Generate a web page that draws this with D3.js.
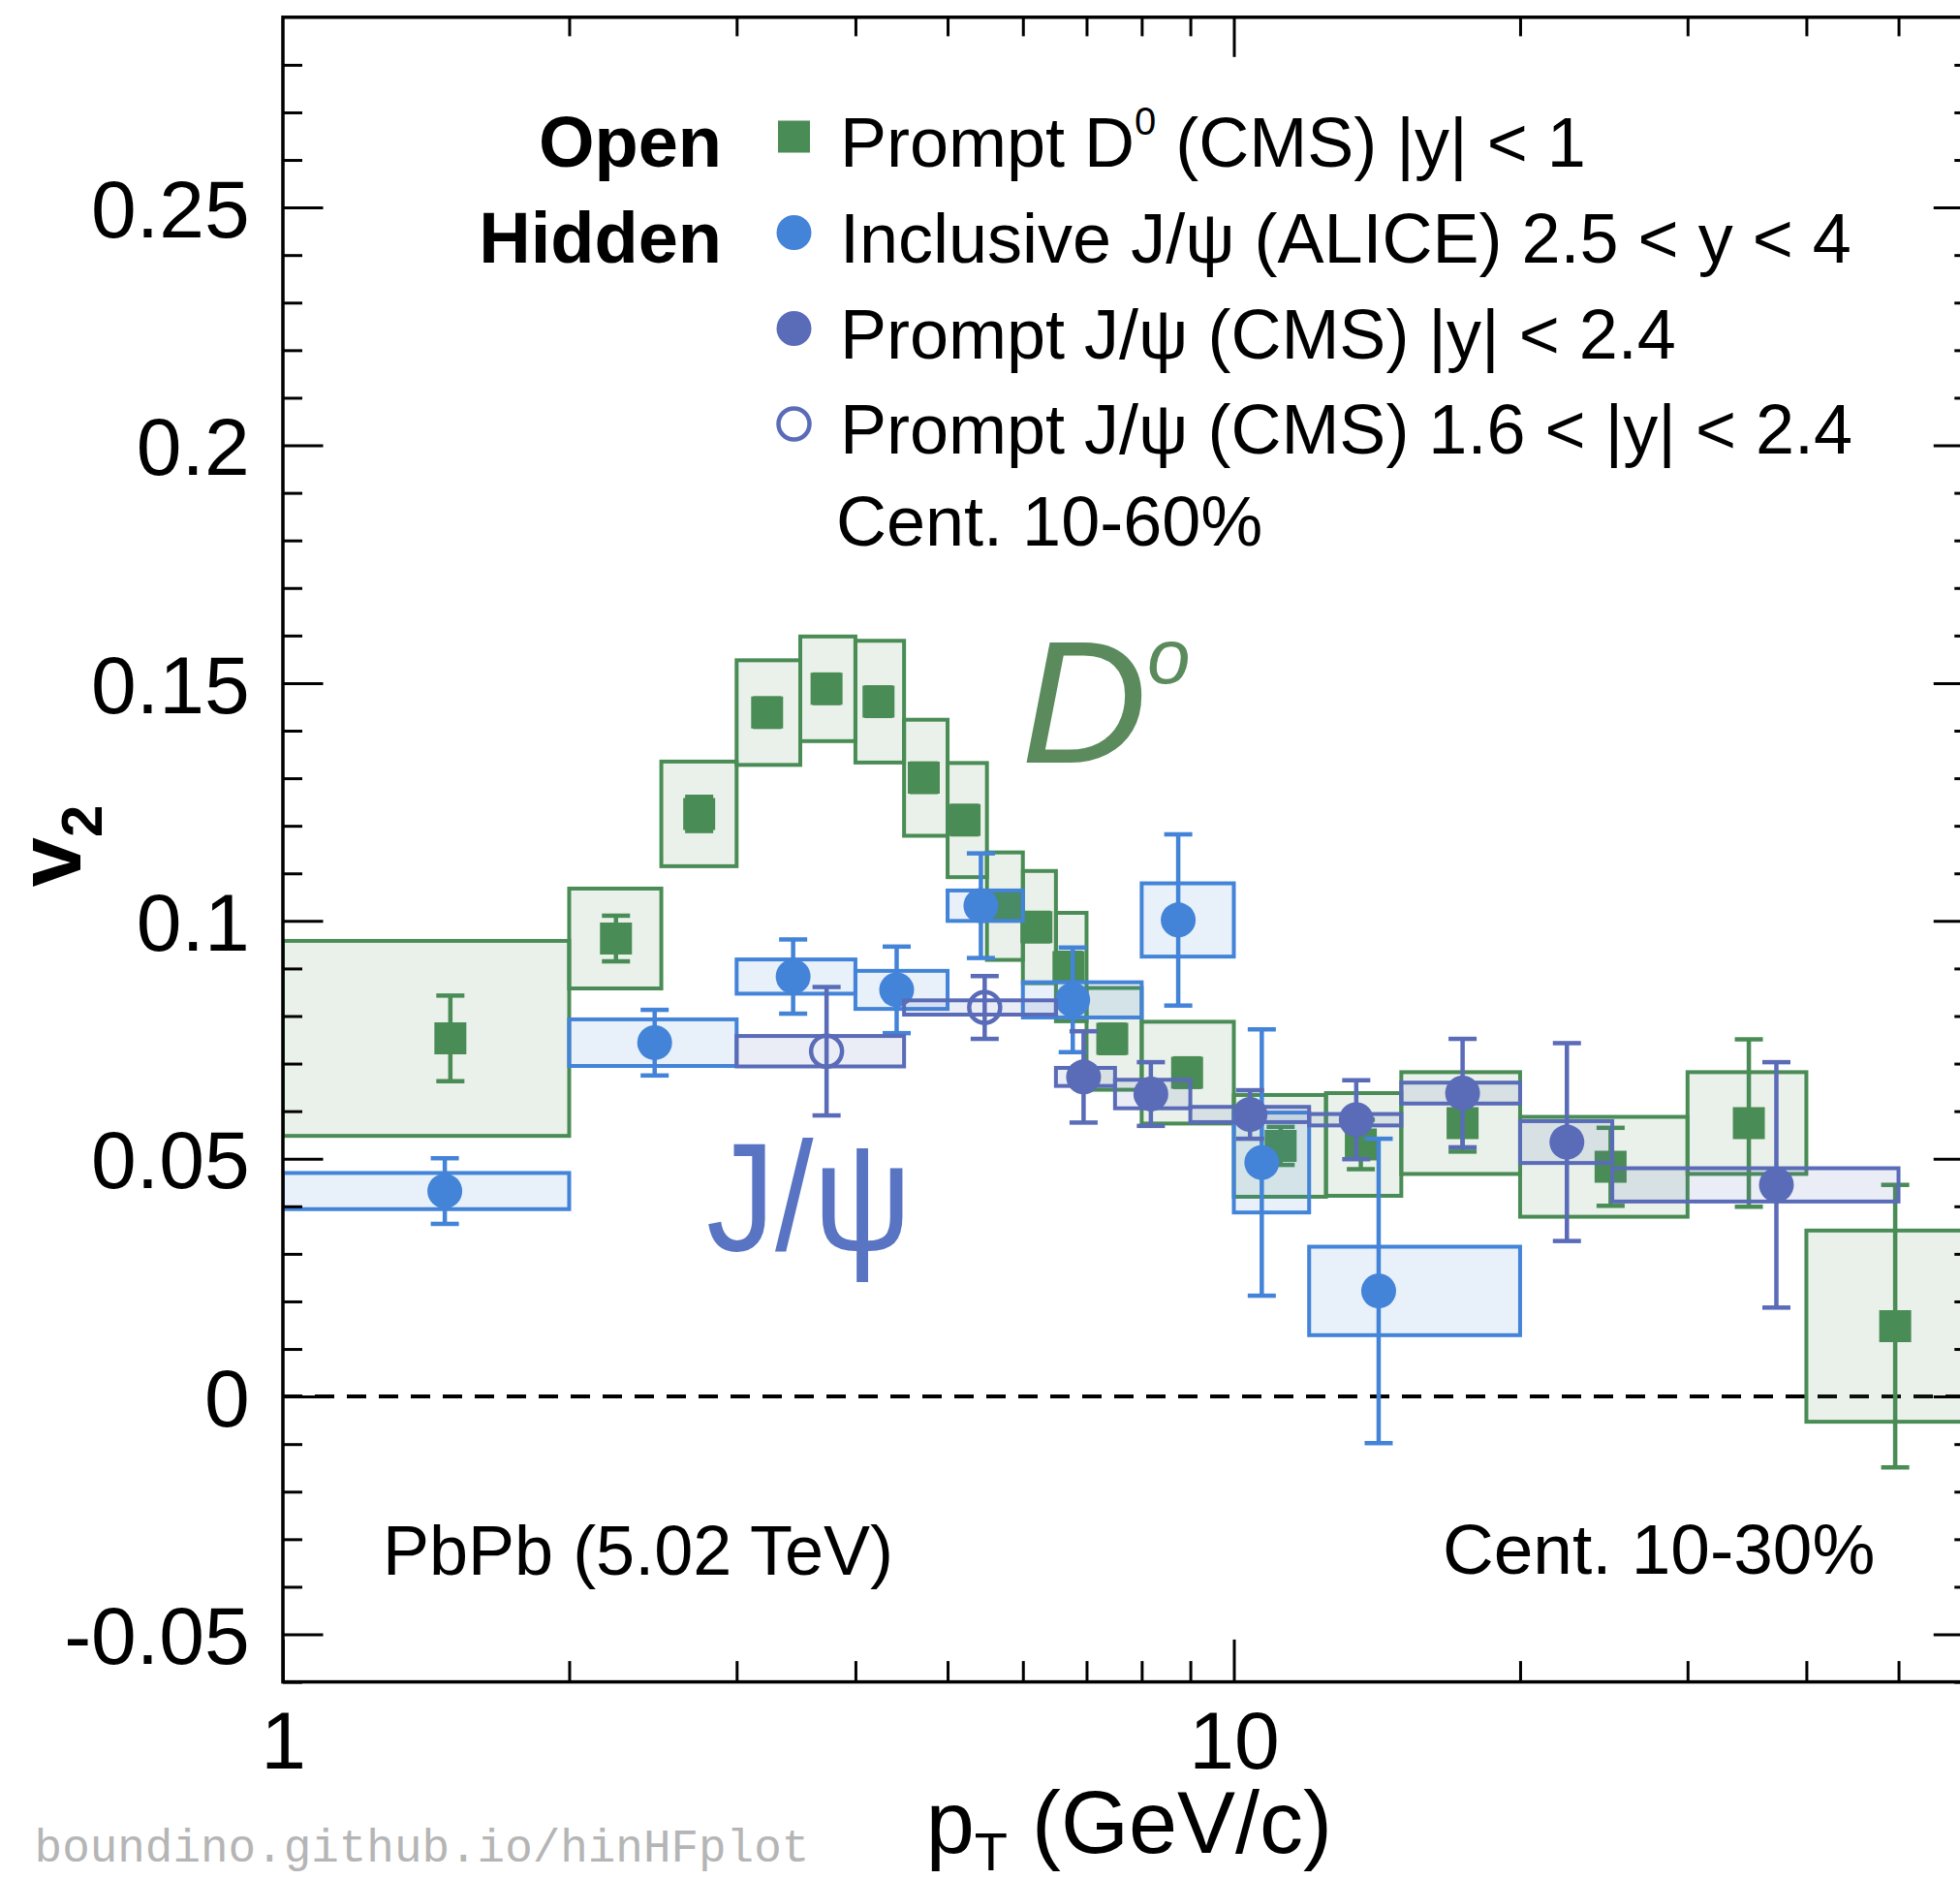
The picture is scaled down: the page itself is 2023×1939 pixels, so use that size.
<!DOCTYPE html>
<html><head><meta charset="utf-8">
<script src="https://cdn.jsdelivr.net/npm/d3@7"></script>
<style>
body{margin:0;background:#fff}
svg{display:block}
text{font-family:"Liberation Sans",Arial,Helvetica,sans-serif}
</style>
</head><body>
<svg id="c" width="2023" height="1939"></svg>
<script>
// ---------------- DATA ----------------
// Prompt D0 (CMS) |y|<1, Cent. 10-30%
const d0Lo   = [1, 2, 2.5, 3, 3.5, 4, 4.5, 5, 5.5, 6, 6.5, 7, 8, 10, 12.5, 15, 20, 30, 40];
const d0Hi   = [2, 2.5, 3, 3.5, 4, 4.5, 5, 5.5, 6, 6.5, 7, 8, 10, 12.5, 15, 20, 30, 40, 60];
const d0Pt   = [1.5, 2.24, 2.74, 3.23, 3.73, 4.23, 4.72, 5.21, 5.75, 6.2, 6.7, 7.45, 8.93, 11.2, 13.6, 17.4, 24.9, 34.8, 49.6];
const d0V2   = [0.0753, 0.0963, 0.1225, 0.1438, 0.1488, 0.1461, 0.1301, 0.1212, 0.1031, 0.0987, 0.0903, 0.0752, 0.0681, 0.0527, 0.0530, 0.0575, 0.0483, 0.0575, 0.0148];
const d0Stat = [0.009, 0.0048, 0.0036, 0.003, 0.003, 0.003, 0.003, 0.003, 0.003, 0.003, 0.003, 0.003, 0.003, 0.004, 0.0052, 0.006, 0.0082, 0.0176, 0.0297];
const d0Syst = [0.0205, 0.0105, 0.011, 0.011, 0.011, 0.0128, 0.0122, 0.012, 0.0113, 0.0118, 0.0114, 0.0107, 0.0107, 0.0107, 0.0108, 0.0107, 0.0105, 0.0107, 0.0201];

// Inclusive J/psi (ALICE) 2.5<y<4
const alLo   = [1, 2, 3, 4, 5, 6, 8, 10, 12];
const alHi   = [2, 3, 4, 5, 6, 8, 10, 12, 20];
const alPt   = [1.48, 2.46, 3.44, 4.42, 5.42, 6.77, 8.74, 10.7, 14.2];
const alV2   = [0.0432, 0.0744, 0.0883, 0.0855, 0.1032, 0.0834, 0.1002, 0.0492, 0.0222];
const alStat = [0.0069, 0.0069, 0.0078, 0.0091, 0.011, 0.011, 0.018, 0.028, 0.032];
const alSyst = [0.0038, 0.0049, 0.0036, 0.004, 0.0032, 0.0037, 0.0077, 0.0105, 0.0093];

// Prompt J/psi (CMS) |y|<2.4
const cmLo   = [6.5, 7.5, 9, 12, 15, 20, 25];
const cmHi   = [7.5, 9, 12, 15, 20, 25, 50];
const cmPt   = [6.95, 8.18, 10.4, 13.45, 17.4, 22.4, 37.2];
const cmV2   = [0.0672, 0.0636, 0.0593, 0.0582, 0.0638, 0.0535, 0.0445];
const cmStat = [0.0096, 0.0067, 0.0051, 0.0083, 0.0114, 0.0208, 0.0258];
const cmSyst = [0.0019, 0.003, 0.0016, 0.0012, 0.0022, 0.0044, 0.0035];

// Prompt J/psi (CMS) 1.6<|y|<2.4
const cfLo   = [3, 4.5];
const cfHi   = [4.5, 6.5];
const cfPt   = [3.73, 5.47];
const cfV2   = [0.0726, 0.0818];
const cfStat = [0.0135, 0.0066];
const cfSyst = [0.0032, 0.0015];

// ticks
const yTickVals   = [-0.05, 0, 0.05, 0.1, 0.15, 0.2, 0.25];
const yTickLabels = ["-0.05", "0", "0.05", "0.1", "0.15", "0.2", "0.25"];
const yMinorVals  = d3.range(-6, 29).map(d => d / 100).filter(d => Math.abs(Math.round(d * 100) % 5) !== 0);
const xTickVals   = [1, 10];
const xTickLabels = ["1", "10"];
const xMinorVals  = [2, 3, 4, 5, 6, 7, 8, 9, 20, 30, 40, 50];

const legendLabels = ["Prompt D|0| (CMS) |y| < 1", "Inclusive J/ψ (ALICE) 2.5 < y < 4", "Prompt J/ψ (CMS) |y| < 2.4", "Prompt J/ψ (CMS) 1.6 < |y| < 2.4"];

// ---------------- SETUP ----------------
const W = 2023, H = 1939;
const svg = d3.select("#c");
svg.append("rect").attr("width", W).attr("height", H).attr("fill", "#fff");

const X0 = 292, DEC = 981.5;
const x = d3.scaleLog().domain([1, 60]).range([X0, X0 + DEC * Math.log10(60)]);
const y = d3.scaleLinear().domain([-0.06, 0.29]).range([1735.6, 17.8]);
const XR = x(60), YT = y(0.29), YB = y(-0.06);

const GREEN = "#4a8c55", BLUE = "#4383d8", PURP = "#5a6bb8";

svg.append("clipPath").attr("id", "clip").append("rect")
  .attr("x", X0).attr("y", YT).attr("width", XR - X0).attr("height", YB - YT);

// zero line
svg.append("line").attr("x1", X0).attr("x2", XR).attr("y1", y(0)).attr("y2", y(0))
  .attr("stroke", "#000").attr("stroke-width", 4).attr("stroke-dasharray", "20,13");

// ---------------- SERIES ----------------
const plot = svg.append("g").attr("clip-path", "url(#clip)");

function rows(lo, hi, pt, v, st, sy) {
  return pt.map((p, i) => ({lo: lo[i], hi: hi[i], pt: p, v: v[i], st: st[i], sy: sy[i]}));
}
function drawSeries(data, color, marker) {
  const g = plot.append("g");
  g.selectAll("rect.box").data(data).join("rect").attr("class", "box")
    .attr("x", d => x(d.lo)).attr("width", d => x(d.hi) - x(d.lo))
    .attr("y", d => y(d.v + d.sy)).attr("height", d => y(d.v - d.sy) - y(d.v + d.sy))
    .attr("fill", color).attr("fill-opacity", 0.12)
    .attr("stroke", color).attr("stroke-width", 4);
  const eb = g.selectAll("g.eb").data(data).join("g").attr("class", "eb")
    .attr("stroke", color).attr("stroke-width", 4.5);
  eb.append("line").attr("x1", d => x(d.pt)).attr("x2", d => x(d.pt))
    .attr("y1", d => y(d.v - d.st)).attr("y2", d => y(d.v + d.st));
  eb.append("line").attr("x1", d => x(d.pt) - 14.5).attr("x2", d => x(d.pt) + 14.5)
    .attr("y1", d => y(d.v - d.st)).attr("y2", d => y(d.v - d.st));
  eb.append("line").attr("x1", d => x(d.pt) - 14.5).attr("x2", d => x(d.pt) + 14.5)
    .attr("y1", d => y(d.v + d.st)).attr("y2", d => y(d.v + d.st));
  const sym = marker === "square" ? d3.symbol(d3.symbolSquare, 33 * 33)
            : marker === "open" ? d3.symbol(d3.symbolCircle, Math.PI * 16 * 16)
            : d3.symbol(d3.symbolCircle, Math.PI * 18 * 18);
  g.selectAll("path.mk").data(data).join("path").attr("class", "mk")
    .attr("transform", d => `translate(${x(d.pt)},${y(d.v)})`)
    .attr("d", sym)
    .attr("fill", marker === "open" ? "none" : color)
    .attr("stroke", marker === "open" ? color : "none")
    .attr("stroke-width", 4.5);
}
drawSeries(rows(d0Lo, d0Hi, d0Pt, d0V2, d0Stat, d0Syst), GREEN, "square");
drawSeries(rows(alLo, alHi, alPt, alV2, alStat, alSyst), BLUE, "circle");
drawSeries(rows(cmLo, cmHi, cmPt, cmV2, cmStat, cmSyst), PURP, "circle");
drawSeries(rows(cfLo, cfHi, cfPt, cfV2, cfStat, cfSyst), PURP, "open");

// ---------------- AXES ----------------
function styleAxis(g) {
  g.select(".domain").remove();
  g.selectAll("line").attr("stroke", "#000").attr("stroke-width", 3);
  g.selectAll("text").attr("font-size", 84).attr("fill", "#000");
}
svg.append("g").attr("transform", `translate(${X0},0)`)
  .call(d3.axisLeft(y).tickValues(yTickVals).tickSize(-41.5).tickPadding(34.4).tickFormat((d, i) => yTickLabels[i]))
  .call(styleAxis).selectAll("text").attr("dy", "0.36em");
svg.append("g").attr("transform", `translate(${X0},0)`)
  .call(d3.axisLeft(y).tickValues(yMinorVals).tickSize(-20).tickFormat("")).call(styleAxis);
svg.append("g").attr("transform", `translate(${XR},0)`)
  .call(d3.axisRight(y).tickValues(yTickVals).tickSize(-41.5).tickFormat("")).call(styleAxis);
svg.append("g").attr("transform", `translate(${XR},0)`)
  .call(d3.axisRight(y).tickValues(yMinorVals).tickSize(-20).tickFormat("")).call(styleAxis);
svg.append("g").attr("transform", `translate(0,${YB})`)
  .call(d3.axisBottom(x).tickValues(xTickVals).tickSize(-43.7).tickPadding(29.8).tickFormat((d, i) => xTickLabels[i]))
  .call(styleAxis);
svg.append("g").attr("transform", `translate(0,${YB})`)
  .call(d3.axisBottom(x).tickValues(xMinorVals).tickSize(-21.5).tickFormat("")).call(styleAxis);
svg.append("g").attr("transform", `translate(0,${YT})`)
  .call(d3.axisTop(x).tickValues([10]).tickSize(-41).tickFormat("")).call(styleAxis);
svg.append("g").attr("transform", `translate(0,${YT})`)
  .call(d3.axisTop(x).tickValues(xMinorVals).tickSize(-19.6).tickFormat("")).call(styleAxis);

// frame
svg.append("rect").attr("x", X0).attr("y", YT).attr("width", XR - X0).attr("height", YB - YT)
  .attr("fill", "none").attr("stroke", "#000").attr("stroke-width", 3.5);

// axis titles
const xt = svg.append("text").attr("x", 1375).attr("y", 1912).attr("text-anchor", "end").attr("font-size", 90);
xt.append("tspan").text("p");
xt.append("tspan").attr("font-size", 56).attr("dy", 18).text("T");
xt.append("tspan").attr("dy", -18).text(" (GeV/c)");

const yt = svg.append("text").attr("transform", "translate(83,873) rotate(-90)")
  .attr("text-anchor", "middle").attr("font-size", 92).attr("font-weight", "bold");
yt.append("tspan").text("v");
yt.append("tspan").attr("font-size", 60).attr("dy", 22).text("2");

// ---------------- LEGEND ----------------
const legY = [141, 240, 339, 437.5];
const legColors = [GREEN, BLUE, PURP, PURP];
const legKinds = ["square", "circle", "circle", "open"];
const lg = svg.append("g");
legY.forEach((yy, i) => {
  const k = legKinds[i];
  const sym = k === "square" ? d3.symbol(d3.symbolSquare, 33 * 33)
            : k === "open" ? d3.symbol(d3.symbolCircle, Math.PI * 16 * 16)
            : d3.symbol(d3.symbolCircle, Math.PI * 18 * 18);
  lg.append("path").attr("transform", `translate(819.5,${yy})`).attr("d", sym)
    .attr("fill", k === "open" ? "none" : legColors[i])
    .attr("stroke", k === "open" ? legColors[i] : "none").attr("stroke-width", 4.5);
  const t = lg.append("text").attr("x", 867).attr("y", yy + 30.5).attr("font-size", 72);
  const parts = legendLabels[i].split("|0|");
  if (parts.length === 2) {
    t.append("tspan").text(parts[0]);
    t.append("tspan").attr("font-size", 40).attr("dy", -33).text("0");
    t.append("tspan").attr("dy", 33).text(parts[1]);
  } else {
    t.text(legendLabels[i]);
  }
});
lg.append("text").attr("x", 863).attr("y", 563).attr("font-size", 72).text("Cent. 10-60%");
lg.append("text").attr("x", 745).attr("y", 172).attr("font-size", 74).attr("font-weight", "bold")
  .attr("text-anchor", "end").text("Open");
lg.append("text").attr("x", 745).attr("y", 271).attr("font-size", 74).attr("font-weight", "bold")
  .attr("text-anchor", "end").text("Hidden");

// ---------------- OTHER TEXT ----------------
svg.append("text").attr("x", 395).attr("y", 1625).attr("font-size", 72).text("PbPb (5.02 TeV)");
svg.append("text").attr("x", 1489).attr("y", 1624).attr("font-size", 73).text("Cent. 10-30%");

svg.append("text").attr("x", 35.6).attr("y", 1921)
  .style("font-family", "'Liberation Mono', 'DejaVu Sans Mono', monospace").attr("font-size", 47.6)
  .attr("fill", "#b5b5b5").text("boundino.github.io/hinHFplot");

// hand-written annotations
const dn = svg.append("text").attr("x", 1054).attr("y", 787).attr("font-size", 180)
  .attr("fill", "#5b8a5d").attr("font-style", "italic");
dn.append("tspan").text("D");
dn.append("tspan").attr("font-size", 80).attr("dy", -82).text("o");

svg.append("text").attr("x", 729).attr("y", 1290).attr("font-size", 160)
  .attr("fill", "#5874c2").attr("textLength", 212).attr("lengthAdjust", "spacingAndGlyphs").text("J/ψ");
</script>
</body></html>
